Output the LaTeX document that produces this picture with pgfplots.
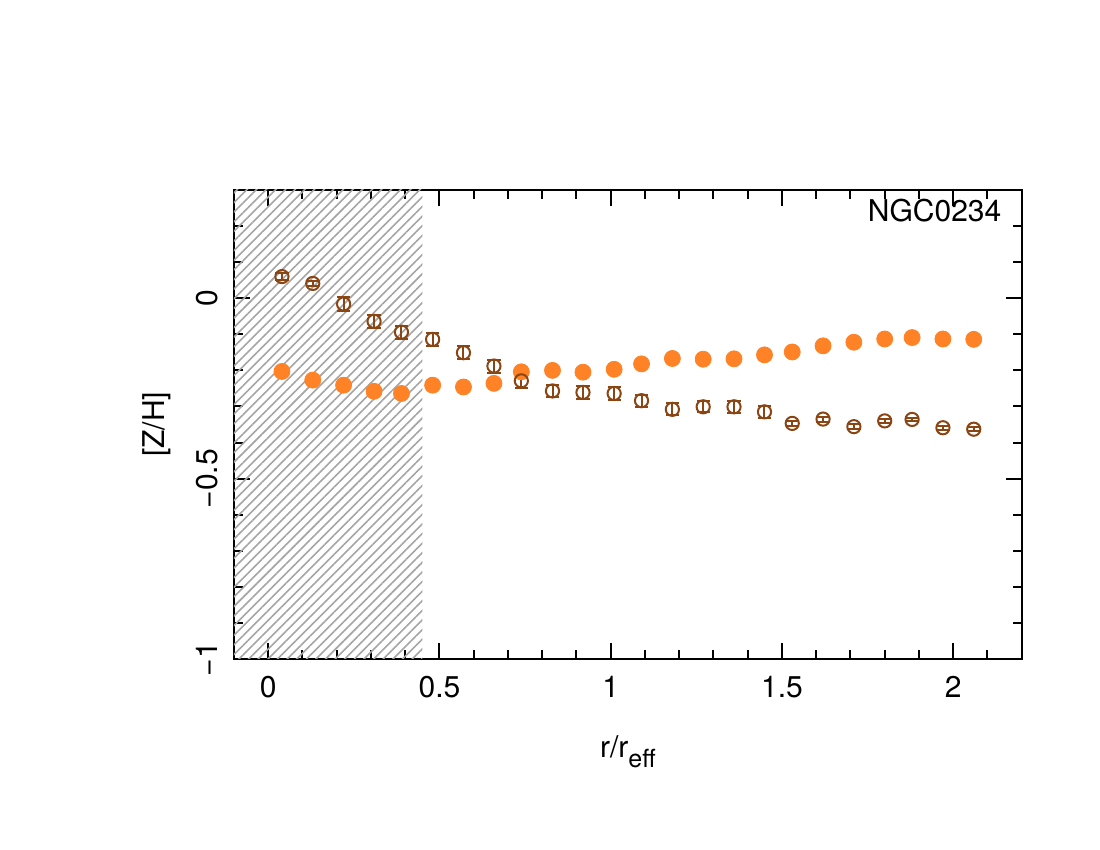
\documentclass[border=0pt]{standalone}
\usepackage{pgfplots}
\pgfplotsset{compat=1.18}
\usepackage{pgfplotstable}
\usepackage{fontspec}
\setmainfont{TeX Gyre Heros}
\usetikzlibrary{patterns.meta}
\definecolor{zbrown}{RGB}{139,69,19}
\definecolor{zorange}{RGB}{255,130,38}
\definecolor{hatchgray}{RGB}{165,165,165}

\pgfplotstableread{
x y e
0.040 0.060 0.010
0.130 0.041 0.008
0.220 -0.016 0.020
0.309 -0.064 0.018
0.389 -0.094 0.018
0.480 -0.114 0.018
0.570 -0.151 0.018
0.659 -0.188 0.018
0.739 -0.229 0.020
0.830 -0.257 0.017
0.919 -0.261 0.017
1.010 -0.264 0.017
1.090 -0.284 0.017
1.180 -0.308 0.017
1.270 -0.301 0.015
1.360 -0.301 0.017
1.449 -0.315 0.017
1.530 -0.347 0.007
1.620 -0.335 0.007
1.710 -0.356 0.006
1.800 -0.340 0.006
1.880 -0.336 0.005
1.970 -0.359 0.006
2.060 -0.363 0.006
}\opendata

\pgfplotstableread{
x y
0.040 -0.203
0.130 -0.227
0.220 -0.241
0.309 -0.258
0.389 -0.264
0.480 -0.241
0.570 -0.246
0.659 -0.236
0.739 -0.204
0.830 -0.200
0.919 -0.205
1.010 -0.197
1.090 -0.182
1.180 -0.167
1.270 -0.169
1.360 -0.168
1.449 -0.157
1.530 -0.149
1.620 -0.132
1.710 -0.122
1.800 -0.113
1.880 -0.109
1.970 -0.113
2.060 -0.114
}\filleddata

\begin{document}
\begin{tikzpicture}
\useasboundingbox (-117pt,-95.5pt) rectangle (433pt,329.5pt);
\begin{axis}[
  at={(0,0)}, anchor=south west,
  scale only axis,
  width=393.85pt, height=234.5pt,
  xmin=-0.1, xmax=2.2,
  ymin=-1, ymax=0.3,
  axis line style={line width=1pt},
  tick style={line width=1pt, black},
  tick align=inside,
  major tick length=8pt,
  minor tick length=4.5pt,
  xtick={0,0.5,1,1.5,2},
  xticklabels={0,0.5,1,1.5,2},
  minor xtick={0.1,0.2,0.3,0.4,0.6,0.7,0.8,0.9,1.1,1.2,1.3,1.4,1.6,1.7,1.8,1.9,2.1},
  ytick={-1,-0.5,0},
  yticklabels={−1,−0.5,0},
  minor ytick={-0.9,-0.8,-0.7,-0.6,-0.4,-0.3,-0.2,-0.1,0.1,0.2},
  xticklabel style={font=\fontsize{15}{18}\selectfont, inner sep=0pt, anchor=north},
  xticklabel shift=8.5pt,
  yticklabel style={font=\fontsize{15}{18}\selectfont, inner sep=0pt, rotate=90, anchor=south},
  yticklabel shift=8pt,
  xlabel={r/r\raisebox{-0.32em}{\fontsize{12.5}{14}\selectfont eff}},
  ylabel={[Z/H]},
  xlabel style={font=\fontsize{15}{18}\selectfont, at={(axis description cs:0.5,0)}, anchor=base, yshift=-49.5pt, inner sep=0pt},
  ylabel style={font=\fontsize{15}{18}\selectfont, at={(axis description cs:0,0.5)}, anchor=center, yshift=38.5pt, inner sep=0pt},
  clip=false,
]
\fill[pattern={Lines[angle=45,distance=3.4pt,line width=0.8pt]}, pattern color=hatchgray]
  (axis cs:-0.1,-1) rectangle (axis cs:0.45,0.3);

\addplot[only marks, mark=*, mark size=4pt, color=zorange, mark options={fill=zorange, draw=zorange}]
  table[x=x, y=y] {\filleddata};

\addplot[only marks, mark=o, mark size=3.3pt, color=zbrown, line width=1pt,
  error bars/.cd, y dir=both, y explicit,
  error mark=-,
  error mark options={rotate=90, mark size=3.3pt, line width=1pt, zbrown},
  error bar style={line width=1pt, zbrown}]
  table[x=x, y=y, y error=e] {\opendata};

\node[anchor=base east, font=\fontsize{15}{18}\selectfont, inner sep=0pt]
  at (rel axis cs:1,1) [xshift=-10pt, yshift=-15.85pt] {NGC0234};
\end{axis}
\end{tikzpicture}
\end{document}
